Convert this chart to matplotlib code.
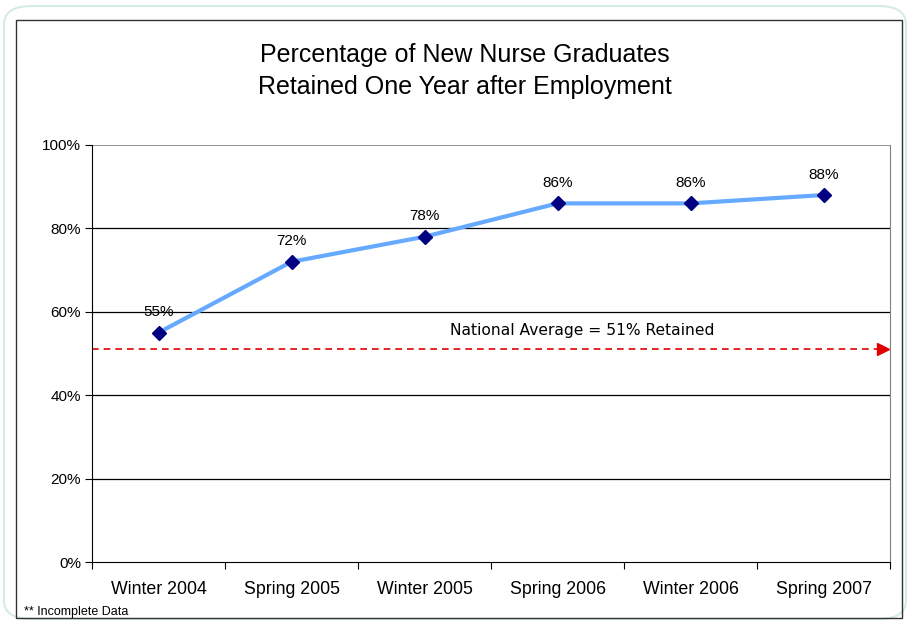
import matplotlib.pyplot as plt
from matplotlib.patches import FancyBboxPatch, Rectangle

plt.rcParams['font.family'] = ['Liberation Sans', 'DejaVu Sans']

# data
periods = ['Winter 2004', 'Spring 2005', 'Winter 2005',
           'Spring 2006', 'Winter 2006', 'Spring 2007']
retained = [55, 72, 78, 86, 86, 88]
national_avg = 51
yticks = [0, 20, 40, 60, 80, 100]

W, H = 910, 623
fig = plt.figure(figsize=(W / 100, H / 100), dpi=100)

# outer rounded slide frame
fig.patches.append(FancyBboxPatch((4 / W, 4 / H), (W - 8) / W, (H - 10) / H,
                                  boxstyle='round,pad=0,rounding_size=0.03',
                                  transform=fig.transFigure, fill=False,
                                  ec='#d6ebe6', lw=1.5))
# chart frame
fig.patches.append(Rectangle((16 / W, 5 / H), 886 / W, (H - 25) / H,
                             transform=fig.transFigure, fill=False,
                             ec='#333333', lw=1.0))

ax = fig.add_axes([92 / W, (H - 562) / H, 798 / W, 417 / H])
x = list(range(len(periods)))

ax.set_xlim(-0.5, len(periods) - 0.5)
ax.set_ylim(0, 100)

for v in yticks[1:-1]:
    ax.axhline(v, color='black', lw=0.9, zorder=1)
ax.axhline(100, color='#808080', lw=1.2, zorder=1)

# national average arrow
x_end = len(periods) - 0.5 - 0.055
ax.plot([-0.5, x_end], [national_avg, national_avg], color='#e00000',
        lw=1.2, ls=(0, (4, 3)), zorder=2)
ax.plot([x_end], [national_avg], marker='>', color='#e00000', ms=8,
        mec='#e00000', zorder=2)
ax.text(2.19, national_avg + 4.5,
        'National Average = %d%% Retained' % national_avg,
        family='DejaVu Sans', fontsize=11.2, ha='left', va='center')

ax.plot(x, retained, color='#66aaff', lw=3, zorder=3)
ax.plot(x, retained, ls='none', marker='D', color='#000080', ms=7, zorder=4)
for xi, v in zip(x, retained):
    ax.text(xi, v + 3.2, '%d%%' % v, fontsize=11, ha='center', va='bottom')

ax.set_yticks(yticks)
ax.set_yticklabels(['%d%%' % v for v in yticks], fontsize=11)
ax.set_xticks([i - 0.5 for i in range(len(periods) + 1)])
ax.set_xticklabels([])
ax.set_xticks(x, minor=True)
ax.set_xticklabels(periods, minor=True, fontsize=12.8)
ax.tick_params(axis='x', which='minor', length=0, pad=14)
ax.tick_params(axis='x', which='major', length=5, direction='out')
ax.tick_params(axis='y', length=5, direction='out', pad=3)

ax.spines['top'].set_visible(False)
ax.spines['right'].set_color('#808080')
ax.spines['left'].set_color('black')
ax.spines['bottom'].set_color('black')

fig.text(465 / W, 1 - 55 / H, 'Percentage of New Nurse Graduates',
         fontsize=18, ha='center', va='center')
fig.text(465 / W, 1 - 87 / H, 'Retained One Year after Employment',
         fontsize=18, ha='center', va='center')
fig.text(24 / W, 1 - 612 / H, '** Incomplete Data', fontsize=9,
         ha='left', va='center')

fig.savefig('out.png', dpi=100)
